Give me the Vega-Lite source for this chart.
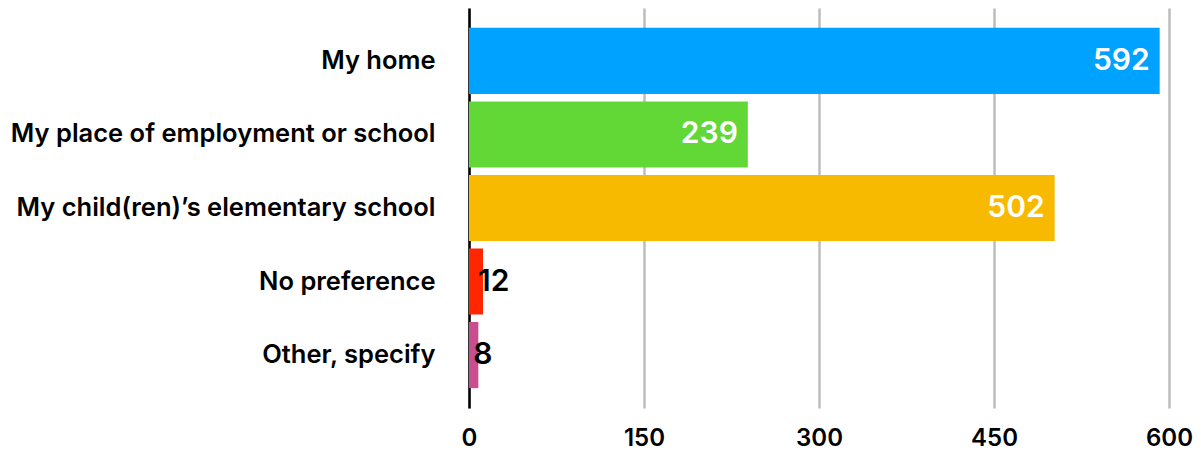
{
  "$schema": "https://vega.github.io/schema/vega-lite/v6.json",
  "width": 700,
  "height": 400,
  "autosize": {"type": "none"},
  "padding": {"left": 469, "top": 8, "right": 32, "bottom": 47},
  "background": "white",
  "config": {
    "view": {"stroke": null},
    "font": "Inter"
  },
  "data": {
    "values": [
      {"category": "My home", "count": 592, "color": "#00A2FF"},
      {"category": "My place of employment or school", "count": 239, "color": "#61D836"},
      {"category": "My child(ren)’s elementary school", "count": 502, "color": "#F8BA00"},
      {"category": "No preference", "count": 12, "color": "#FF2600"},
      {"category": "Other, specify", "count": 8, "color": "#C94E8E"}
    ]
  },
  "encoding": {
    "y": {
      "field": "category",
      "type": "nominal",
      "sort": null,
      "scale": {"paddingInner": 0.1, "paddingOuter": 0.27},
      "axis": {
        "title": null,
        "domain": true,
        "domainColor": "#000000",
        "domainWidth": 2.5,
        "ticks": false,
        "labelPadding": 34,
        "labelFont": "Inter",
        "labelFontWeight": 600,
        "labelFontSize": 25.5,
        "labelColor": "#000000",
        "labelLimit": 465
      }
    },
    "x": {
      "field": "count",
      "type": "quantitative",
      "scale": {"domain": [0, 600], "nice": false},
      "axis": {
        "title": null,
        "values": [0, 150, 300, 450, 600],
        "domain": false,
        "ticks": false,
        "grid": true,
        "gridColor": "#BDBDBD",
        "gridWidth": 2.5,
        "labelPadding": 18,
        "labelFont": "Inter",
        "labelFontWeight": 600,
        "labelFontSize": 24,
        "labelColor": "#000000",
        "labelFlush": false
      }
    }
  },
  "layer": [
    {
      "mark": {"type": "bar"},
      "encoding": {
        "color": {"field": "color", "type": "nominal", "scale": null, "legend": null}
      }
    },
    {
      "transform": [{"filter": "datum.count >= 100"}],
      "mark": {"type": "text", "align": "right", "baseline": "middle", "dx": -10, "fontSize": 30, "fontWeight": 600, "color": "#FFFFFF", "font": "Inter"},
      "encoding": {"text": {"field": "count", "type": "quantitative"}}
    },
    {
      "transform": [{"filter": "datum.count < 100"}],
      "mark": {"type": "text", "align": "left", "baseline": "middle", "dx": -5, "fontSize": 30, "fontWeight": 600, "color": "#000000", "font": "Inter"},
      "encoding": {"text": {"field": "count", "type": "quantitative"}}
    }
  ]
}
